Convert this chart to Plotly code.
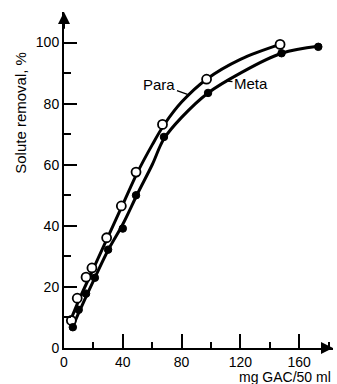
import plotly.graph_objects as go

para_x = [5, 9, 15, 19, 29, 39, 49, 67, 97, 147]
para_y = [9.0, 16.3, 23.2, 26.2, 36.1, 46.5, 57.6, 73.2, 88.0, 99.4]
meta_x = [6, 10, 15, 21, 30, 40, 49, 68, 98, 148, 173]
meta_y = [6.8, 12.5, 17.8, 23.0, 32.2, 39.1, 50.0, 69.1, 83.5, 96.5, 98.6]

# Drawn smooth curves
para_curve_x = [4, 10, 20, 30, 40, 50, 60, 68, 80, 97, 120, 147]
para_curve_y = [8.5, 15.5, 26.0, 36.5, 47.0, 57.5, 66.5, 73.0, 80.5, 88.0, 94.5, 99.4]
meta_curve_x = [5, 10, 20, 30, 40, 50, 60, 68, 80, 98, 120, 148, 173]
meta_curve_y = [6.0, 11.5, 22.0, 32.0, 40.5, 50.5, 60.0, 68.5, 75.5, 83.5, 90.0, 96.5, 98.8]

x_ticks = [0, 40, 80, 120, 160]
y_ticks = [0, 20, 40, 60, 80, 100]

FONT = "Liberation Sans"

fig = go.Figure()
fig.add_trace(go.Scatter(x=para_curve_x, y=para_curve_y, mode="lines",
                         line=dict(color="black", width=3, shape="spline", smoothing=1.0),
                         showlegend=False, hoverinfo="skip"))
fig.add_trace(go.Scatter(x=meta_curve_x, y=meta_curve_y, mode="lines",
                         line=dict(color="black", width=3, shape="spline", smoothing=1.0),
                         showlegend=False, hoverinfo="skip"))
fig.add_trace(go.Scatter(x=para_x, y=para_y, mode="markers", name="Para",
                         marker=dict(symbol="circle", size=9, color="white",
                                     line=dict(color="black", width=1.8)),
                         showlegend=False, cliponaxis=False))
fig.add_trace(go.Scatter(x=meta_x, y=meta_y, mode="markers", name="Meta",
                         marker=dict(symbol="circle", size=7.5, color="black",
                                     line=dict(color="black", width=1)),
                         showlegend=False, cliponaxis=False))

axis_common = dict(showgrid=False, zeroline=False, showline=True, linecolor="black",
                   linewidth=2, ticks="inside", tickcolor="black", tickwidth=1.6,
                   tickfont=dict(family=FONT, size=14, color="black"))

fig.update_xaxes(range=[0, 183], tickvals=x_ticks, ticklen=14,
                 minor=dict(dtick=20, tick0=0, ticklen=6, ticks="inside",
                            tickcolor="black", tickwidth=1.6),
                 **axis_common)
fig.update_yaxes(range=[0, 110], tickvals=y_ticks, ticklen=13,
                 minor=dict(dtick=10, tick0=0, ticklen=7, ticks="inside",
                            tickcolor="black", tickwidth=1.6),
                 **axis_common)

annotations = [
    # axis arrows
    dict(x=0, y=110, ax=0, ay=104, xref="x", yref="y", axref="x", ayref="y",
         showarrow=True, arrowhead=2, arrowsize=1.2, arrowwidth=2, arrowcolor="black", text=""),
    dict(x=183, y=0, ax=176, ay=0, xref="x", yref="y", axref="x", ayref="y",
         showarrow=True, arrowhead=2, arrowsize=1.2, arrowwidth=2, arrowcolor="black", text=""),
    # axis titles
    dict(x=-0.16, y=0.70, xref="paper", yref="paper", text="Solute removal, %",
         textangle=-90, showarrow=False, xanchor="center", yanchor="middle",
         font=dict(family=FONT, size=15, color="black")),
    dict(x=0.996, y=-0.06, xref="paper", yref="paper", text="mg GAC/50 ml",
         showarrow=False, xanchor="right", yanchor="top", borderpad=0,
         font=dict(family=FONT, size=14, color="black")),
    # series labels
    dict(x=84, y=83, xref="x", yref="y", ax=-28, ay=-10, text="Para",
         showarrow=True, arrowhead=0, arrowwidth=1.3, arrowcolor="black", standoff=0,
         font=dict(family=FONT, size=15, color="black")),
    dict(x=109.5, y=87.5, xref="x", yref="y", ax=26, ay=3, text="Meta",
         showarrow=True, arrowhead=0, arrowwidth=1.3, arrowcolor="black", standoff=0,
         font=dict(family=FONT, size=15, color="black")),
]

fig.update_layout(width=337, height=384, margin=dict(l=64, r=4, t=12, b=36),
                  plot_bgcolor="white", paper_bgcolor="white",
                  annotations=annotations, showlegend=False)

fig.write_html("out.html", config={"displayModeBar": False},
               post_script="document.body.style.margin='0';document.body.style.overflow='hidden';")
